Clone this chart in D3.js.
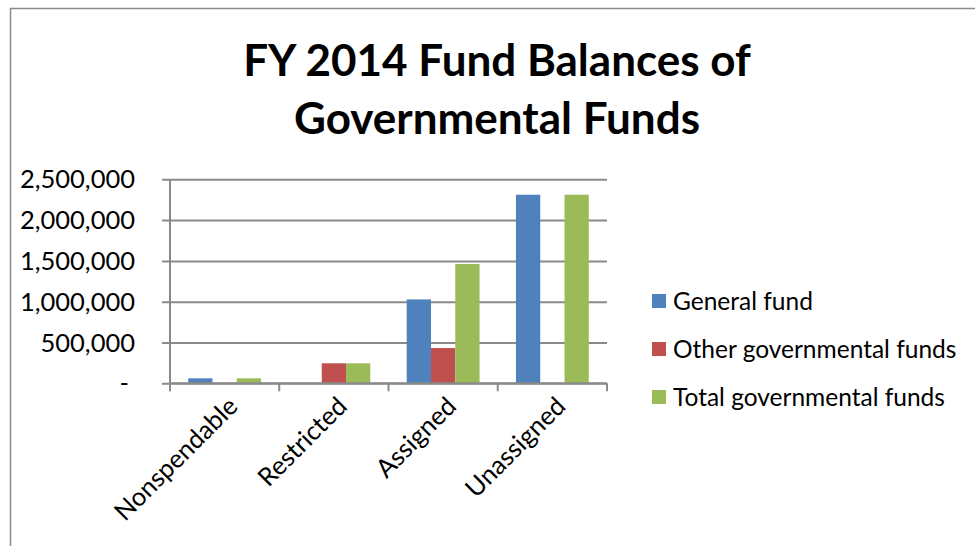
<!DOCTYPE html>
<html>
<head>
<meta charset="utf-8">
<script src="https://cdn.jsdelivr.net/npm/d3@7"></script>
<style>
  html, body { margin: 0; padding: 0; background: #fff; }
  svg { display: block; font-family: Lato, "Open Sans", sans-serif; }
</style>
</head>
<body>
<svg id="chart" width="975" height="546"></svg>
<script>
// Fund balance categories and amounts (USD)
const categories = ["Nonspendable", "Restricted", "Assigned", "Unassigned"];
const seriesNames = ["General fund", "Other governmental funds", "Total governmental funds"];
const generalFund = [61000, 0, 1028000, 2311000];
const otherFunds = [0, 245000, 432000, 0];
const totalFunds = [61000, 245000, 1462000, 2311000];
const seriesColors = ["#4F81BD", "#C0504D", "#9BBB59"];
const yTicks = [0, 500000, 1000000, 1500000, 2000000, 2500000];

const seriesValues = [generalFund, otherFunds, totalFunds];

const svg = d3.select("#chart");
const plot = { left: 170, right: 607, top: 179.3, bottom: 383.3 };

// Chart frame
svg.append("rect")
  .attr("x", 10.5).attr("y", 8.5)
  .attr("width", 1000).attr("height", 600)
  .attr("fill", "#fff").attr("stroke", "#8c8c8c").attr("stroke-width", 1.5);

// Title
const title = svg.append("text")
  .attr("text-anchor", "middle")
  .attr("font-weight", "bold")
  .attr("font-size", 44)
  .attr("fill", "#000");
title.append("tspan").attr("x", 497).attr("y", 76).text("FY 2014 Fund Balances of");
title.append("tspan").attr("x", 497).attr("y", 134).text("Governmental Funds");

const x0 = d3.scaleBand()
  .domain(categories)
  .range([plot.left, plot.right])
  .paddingInner(0).paddingOuter(0);

const x1 = d3.scaleBand()
  .domain(seriesNames)
  .range([0, x0.bandwidth()])
  .paddingInner(0)
  .paddingOuter(0.75);

const y = d3.scaleLinear()
  .domain([0, 2500000])
  .range([plot.bottom, plot.top]);

// Horizontal gridlines with left tick marks
const yAxis = d3.axisLeft(y)
  .tickValues(yTicks)
  .tickSize(-(plot.right - plot.left))
  .tickFormat(d => d === 0 ? "-" : d3.format(",")(d));

const gy = svg.append("g")
  .attr("transform", `translate(${plot.left},0)`)
  .call(yAxis);
gy.select(".domain").remove();
gy.selectAll(".tick line")
  .attr("x1", -8)
  .attr("stroke", "#8a8a8a").attr("stroke-width", 2);
gy.selectAll(".tick text")
  .attr("x", -35)
  .attr("dy", "0.34em")
  .attr("font-size", 25.5)
  .attr("fill", "#000")
  .attr("font-family", "Lato, sans-serif");
gy.selectAll(".tick text").filter(d => d === 0).attr("x", -41);

// Vertical axis line
svg.append("line")
  .attr("x1", plot.left).attr("x2", plot.left)
  .attr("y1", plot.top).attr("y2", plot.bottom + 8)
  .attr("stroke", "#8a8a8a").attr("stroke-width", 2);

// Bars
const groups = svg.append("g").selectAll("g")
  .data(categories)
  .join("g")
  .attr("transform", d => `translate(${x0(d)},0)`);

groups.selectAll("rect")
  .data((c, i) => seriesNames.map((s, j) => ({ s, v: seriesValues[j][i], c: seriesColors[j] })))
  .join("rect")
  .filter(d => d.v > 0)
  .attr("x", d => x1(d.s))
  .attr("y", d => y(d.v))
  .attr("width", x1.bandwidth())
  .attr("height", d => y(0) - y(d.v))
  .attr("fill", d => d.c);

// Category axis
const xAxis = d3.axisBottom(x0).tickSize(0).tickFormat(d => d);
const gx = svg.append("g")
  .attr("transform", `translate(0,${plot.bottom})`)
  .call(xAxis);
gx.select(".domain")
  .attr("stroke", "#8a8a8a").attr("stroke-width", 2)
  .attr("d", `M${plot.left},0H${plot.right}`);
gx.selectAll(".tick text")
  .attr("font-size", 25.5)
  .attr("fill", "#000")
  .attr("font-family", "Lato, sans-serif")
  .attr("text-anchor", "end")
  .attr("transform", "translate(2,12) rotate(-45)")
  .attr("y", 0).attr("dy", "0.7em");

// Tick marks at category boundaries
const bounds = categories.map(c => x0(c)).concat([plot.right]);
svg.append("g").selectAll("line")
  .data(bounds)
  .join("line")
  .attr("x1", d => d).attr("x2", d => d)
  .attr("y1", plot.bottom).attr("y2", plot.bottom + 8)
  .attr("stroke", "#8a8a8a").attr("stroke-width", 2);

// Legend
const legend = svg.append("g").attr("transform", "translate(652,294)");
const items = legend.selectAll("g")
  .data(seriesNames)
  .join("g")
  .attr("transform", (d, i) => `translate(0,${i * 48})`);
items.append("rect")
  .attr("width", 14).attr("height", 14)
  .attr("fill", (d, i) => seriesColors[i]);
items.append("text")
  .attr("x", 21).attr("y", 7).attr("dy", "0.35em")
  .attr("font-size", 24.5)
  .attr("fill", "#000")
  .text(d => d);
</script>
</body>
</html>
